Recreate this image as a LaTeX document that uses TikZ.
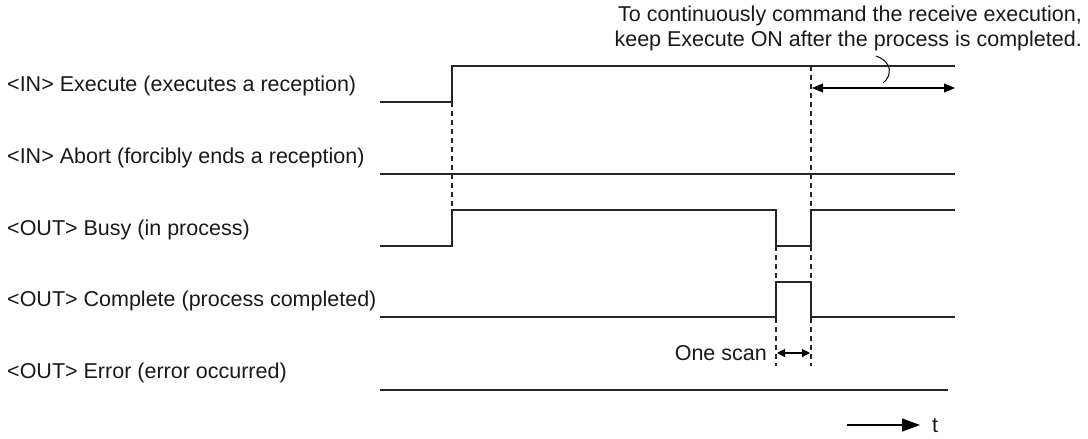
\documentclass[tikz,border=0pt]{standalone}
\usepackage{fontspec}
\setmainfont{Liberation Sans}
\usetikzlibrary{arrows.meta}
\begin{document}
\begin{tikzpicture}[x=1pt,y=-1pt,
  sig/.style={line width=1.2pt,color=black!85},
  guide/.style={line width=1.1pt,dash pattern=on 5pt off 4pt,color=black!85},
  fnt/.style={inner sep=0pt,font=\fontsize{21.5}{25}\selectfont,text=black!90},
  lbl/.style={fnt,anchor=west},
  dbl/.style={line width=1.2pt,{Triangle[length=11pt,width=9pt]}-{Triangle[length=11pt,width=9pt]}},
  sdbl/.style={line width=1.2pt,{Triangle[length=8pt,width=8pt]}-{Triangle[length=8pt,width=8pt]}}]
\useasboundingbox (0,0) rectangle (1088,439);
% labels
\node[lbl] (lexe) at (7,86) {<IN> Execute (executes a reception)};
\node[lbl] (labo) at (7,158) {<IN> Abort (forcibly ends a reception)};
\node[lbl] (lbus) at (7,230) {<OUT> Busy (in process)};
\node[lbl] (lcom) at (7,301) {<OUT> Complete (process completed)};
\node[lbl] (lerr) at (7,373) {<OUT> Error (error occurred)};
% signals
\draw[sig] (380,102) -- (452,102) -- (452,66) -- (955,66);
\draw[sig] (380,174) -- (955,174);
\draw[sig] (380,246) -- (452,246) -- (452,210) -- (776,210) -- (776,246) -- (811,246) -- (811,210) -- (955,210);
\draw[sig] (380,317) -- (776,317) -- (776,282) -- (811,282) -- (811,317) -- (955,317);
\draw[sig] (380,390) -- (948,390);
% guides
\draw[guide] (452,102) -- (452,210);
\draw[guide] (776,246) -- (776,366);
\draw[guide] (811,66) -- (811,366);
% note
\node[fnt,anchor=east,align=right] (note) at (1082,28)
  {To continuously command the receive execution,\\keep Execute ON after the process is completed.};
\coordinate (ka) at (812,88);
\coordinate (kb) at (955,88);
\draw[dbl] (ka) -- (kb);
\coordinate (ca) at (876,56);
\coordinate (cb) at (883,83);
\draw[line width=1pt] (ca) .. controls (893,62) and (892,76) .. (cb);
% one scan
\node[fnt,anchor=east] (scan) at (767,353) {One scan};
\coordinate (sa) at (777,353);
\coordinate (sb) at (810,353);
\draw[sdbl] (sa) -- (sb);
% time axis
\coordinate (ta) at (847,425);
\coordinate (tb) at (920,425);
\draw[line width=1.2pt,-{Triangle[length=18pt,width=13pt]}] (ta) -- (tb);
\node[fnt,anchor=west] (t) at (932,426) {t};
\end{tikzpicture}
\end{document}
